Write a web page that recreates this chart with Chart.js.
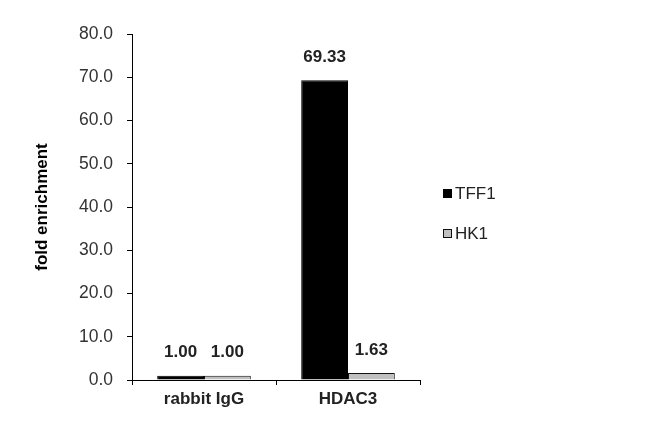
<!DOCTYPE html>
<html>
<head>
<meta charset="utf-8">
<script src="https://cdn.jsdelivr.net/npm/chart.js@4/dist/chart.umd.min.js"></script>
<style>
  body { margin: 0; background: #fff; }
  canvas { display: block; }
</style>
</head>
<body>
<canvas id="chart" width="650" height="434"></canvas>
<script>
// values
const categories = ['rabbit IgG', 'HDAC3'];
const tff1 = [1.00, 69.33];
const hk1 = [1.00, 1.63];
const seriesNames = ['TFF1', 'HK1'];

const FONT = '"Liberation Sans", Arial, sans-serif';

// value labels above each bar
const valueLabels = {
	id: 'valueLabels',
	afterDatasetsDraw(chart) {
		const ctx = chart.ctx;
		ctx.save();
		ctx.font = 'bold 17px ' + FONT;
		ctx.fillStyle = '#222';
		ctx.textAlign = 'center';
		ctx.textBaseline = 'middle';
		chart.data.datasets.forEach((ds, i) => {
			chart.getDatasetMeta(i).data.forEach((bar, j) => {
				ctx.fillText(ds.data[j].toFixed(2), bar.x, bar.y - 23);
			});
		});
		ctx.restore();
	}
};

// legend on the right, square marker + name
const sideLegend = {
	id: 'sideLegend',
	afterDraw(chart) {
		const ctx = chart.ctx;
		ctx.save();
		ctx.font = '17px ' + FONT;
		ctx.textBaseline = 'middle';
		chart.data.datasets.forEach((ds, i) => {
			const y = 194 + i * 40;
			ctx.fillStyle = ds.backgroundColor;
			ctx.strokeStyle = ds.borderColor;
			ctx.lineWidth = 1;
			ctx.fillRect(443.5, y - 4.5, 8, 8);
			ctx.strokeRect(443.5, y - 4.5, 8, 8);
			ctx.fillStyle = '#222';
			ctx.fillText(ds.label, 455, y);
		});
		ctx.restore();
	}
};

new Chart(document.getElementById('chart'), {
	type: 'bar',
	data: {
		labels: categories,
		datasets: [
			{ label: seriesNames[0], data: tff1, backgroundColor: '#000', borderColor: '#000', borderWidth: 1 },
			{ label: seriesNames[1], data: hk1, backgroundColor: '#c0c0c0', borderColor: '#111', borderWidth: 1 }
		]
	},
	options: {
		responsive: false,
		animation: false,
		categoryPercentage: 0.65,
		barPercentage: 1.0,
		layout: { padding: { top: 34, right: 230, left: 0, bottom: 0 } },
		plugins: {
			legend: { display: false },
			tooltip: { enabled: false }
		},
		scales: {
			x: {
				afterFit: (s) => { s.height = 54; },
				grid: { offset: true, drawOnChartArea: false, tickLength: 5, color: '#000' },
				border: { color: '#000', width: 1 },
				ticks: { color: '#222', padding: 4, font: { family: FONT, size: 17, weight: 'bold' } }
			},
			y: {
				min: 0,
				max: 80,
				afterFit: (s) => { s.width = 132; },
				grid: { drawOnChartArea: false, tickLength: 5, color: '#000' },
				border: { color: '#000', width: 1 },
				ticks: {
					stepSize: 10,
					padding: 14,
					color: '#333',
					font: { family: FONT, size: 17.5 },
					callback: (v) => Number(v).toFixed(1)
				},
				title: {
					display: true,
					text: 'fold enrichment',
					color: '#000',
					padding: { top: 32 },
					font: { family: FONT, size: 17, weight: 'bold' }
				}
			}
		}
	},
	plugins: [valueLabels, sideLegend]
});
</script>
</body>
</html>
